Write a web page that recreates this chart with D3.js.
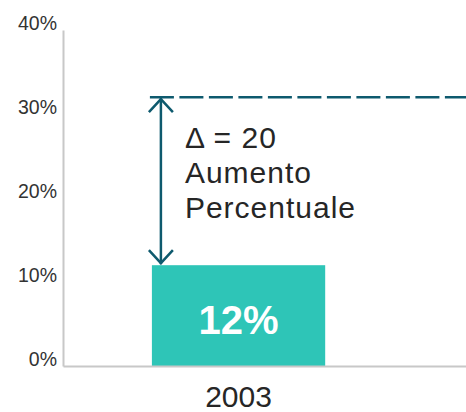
<!DOCTYPE html>
<html>
<head>
<meta charset="utf-8">
<script src="https://cdn.jsdelivr.net/npm/d3@7"></script>
<style>
  body { margin: 0; background: #fff; }
  svg { display: block; font-family: Arial, "Liberation Sans", sans-serif; }
</style>
</head>
<body>
<svg class="chart" width="466" height="412"></svg>
<script>
// chart data
var years = ["2003"];
var values = [12];
var targetValues = [32];
var yTicks = [0, 10, 20, 30, 40];
var noteLines = ["\u0394 = 20", "Aumento", "Percentuale"];

const width = 466;
const height = 412;
const plotLeft = 63;
const plotTop = 30;
const plotBottom = 366;

var svg = d3.select(".chart");

// the single bar sits left of the middle of the axis
var xScale = d3.scaleBand()
    .domain(years)
    .range([plotLeft, width])
    .paddingInner(0.57)
    .paddingOuter(0.285)
    .align(0.387);

var yScale = d3.scaleLinear()
    .domain([0, 40])
    .range([plotBottom, plotTop]);

/**** bars ****/
svg.selectAll(".bar")
    .data(years)
    .enter()
    .append("rect")
    .attr("class", "bar")
    .attr("x", function(d) { return xScale(d); })
    .attr("y", function(d, i) { return yScale(values[i]); })
    .attr("width", xScale.bandwidth())
    .attr("height", function(d, i) { return yScale(0) - yScale(values[i]); })
    .style("fill", "#2ec5b7");

svg.selectAll(".barLabel")
    .data(years)
    .enter()
    .append("text")
    .attr("x", function(d) { return xScale(d) + xScale.bandwidth() / 2; })
    .attr("y", function(d, i) { return yScale(values[i] / 2) + 18; })
    .attr("text-anchor", "middle")
    .style("font-size", "40px")
    .style("font-weight", "bold")
    .style("fill", "#fff")
    .text(function(d, i) { return values[i] + "%"; });

/**** axes ****/
var yAxis = d3.axisLeft(yScale)
    .tickValues(yTicks)
    .tickSize(0)
    .tickFormat(function(d) { return d + "%"; });

var gy = svg.append("g")
    .attr("transform", "translate(" + plotLeft + ",0)")
    .call(yAxis);
gy.select(".domain").attr("stroke", "#c8c8c8").attr("stroke-width", 2);
gy.selectAll("text")
    .attr("x", -6)
    .attr("dy", "-0.05em")
    .style("font-size", "19.5px")
    .style("font-family", "Arial, 'Liberation Sans', sans-serif")
    .style("fill", "#333");

var xAxis = d3.axisBottom(xScale).tickSize(0).tickSizeOuter(0);
var gx = svg.append("g")
    .attr("transform", "translate(0," + plotBottom + ")")
    .call(xAxis);
gx.select(".domain").attr("stroke", "#c8c8c8").attr("stroke-width", 2);
gx.selectAll("text")
    .attr("y", 41)
    .attr("dy", 0)
    .style("font-size", "30px")
    .style("font-family", "Arial, 'Liberation Sans', sans-serif")
    .style("fill", "#262626");

/**** difference annotation ****/
var arrowColor = "#0e5a6e";
var x0 = years[0];
var arrowX = xScale(x0) + 9;

svg.append("line")
    .attr("x1", xScale(x0) - 2)
    .attr("x2", width)
    .attr("y1", yScale(targetValues[0]))
    .attr("y2", yScale(targetValues[0]))
    .attr("stroke", arrowColor)
    .attr("stroke-width", 2.5)
    .attr("stroke-dasharray", "24,5.5");

svg.append("line")
    .attr("x1", arrowX)
    .attr("x2", arrowX)
    .attr("y1", yScale(targetValues[0]) + 1)
    .attr("y2", yScale(values[0]) - 1)
    .attr("stroke", arrowColor)
    .attr("stroke-width", 2.5);

// open arrow heads
[[targetValues[0], 1], [values[0], -1]].forEach(function(a) {
    var yTip = yScale(a[0]) + a[1] * 2;
    svg.append("path")
        .attr("d", "M" + (arrowX - 12) + "," + (yTip + a[1] * 13) +
            "L" + arrowX + "," + yTip +
            "L" + (arrowX + 12) + "," + (yTip + a[1] * 13))
        .attr("fill", "none")
        .attr("stroke", arrowColor)
        .attr("stroke-width", 2.5);
});

svg.append("text")
    .attr("x", arrowX + 24)
    .attr("y", 148)
    .style("font-size", "30px")
    .style("letter-spacing", "1px")
    .style("fill", "#262626")
    .selectAll("tspan")
    .data(noteLines)
    .enter()
    .append("tspan")
    .attr("x", arrowX + 24)
    .attr("dy", function(d, i) { return i === 0 ? 0 : 35; })
    .text(function(d) { return d; });
</script>
</body>
</html>
